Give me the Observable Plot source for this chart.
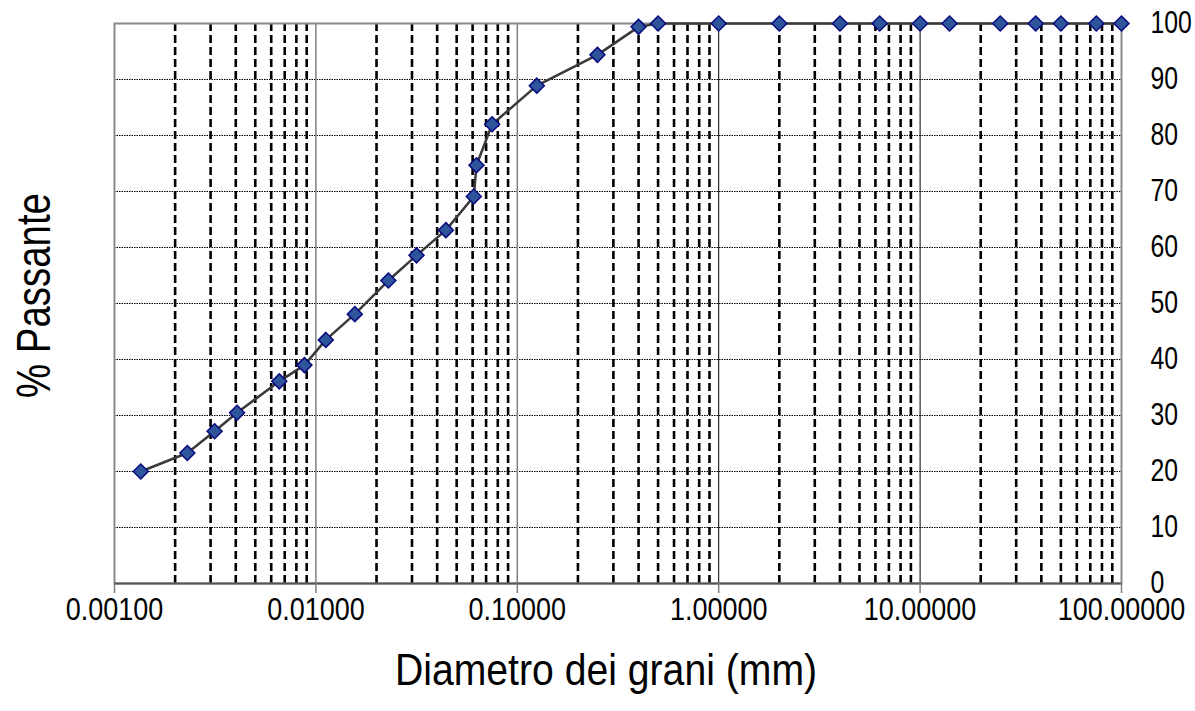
<!DOCTYPE html>
<html>
<head>
<meta charset="utf-8">
<script src="https://cdn.jsdelivr.net/npm/d3@7"></script>
<script src="https://cdn.jsdelivr.net/npm/@observablehq/plot@0.6"></script>
<style>
  html, body { margin: 0; padding: 0; background: #fff; }
  #chart svg { display: block; }
</style>
</head>
<body>
<div id="chart"></div>
<script>
// Grain size distribution (diameter in mm, % passing)
const diameters = [0.00135, 0.0023, 0.00314, 0.00406, 0.00658, 0.00877, 0.0112, 0.0156, 0.0229, 0.0316,
  0.0442, 0.0608, 0.0627, 0.075, 0.125, 0.25, 0.4, 0.5, 1, 2, 4, 6.3, 10, 14, 25, 37.5, 50, 75, 100];
const passing = [20.0, 23.3, 27.2, 30.5, 36.1, 39.0, 43.5, 48.1, 54.1, 58.6,
  63.1, 69.1, 74.7, 82.0, 88.9, 94.4, 99.4, 100, 100, 100, 100, 100, 100, 100, 100, 100, 100, 100, 100];

const xTicks = [0.001, 0.01, 0.1, 1, 10, 100];
const yTicks = [0, 10, 20, 30, 40, 50, 60, 70, 80, 90, 100];
const minorMultipliers = [2, 3, 4, 5, 6, 7, 8, 9];
const xLabel = "Diametro dei grani (mm)";
const yLabel = "% Passante";

const data = diameters.map((d, i) => ({d, p: passing[i]}));
const minorGrid = xTicks.slice(0, -1).flatMap(dec => minorMultipliers.map(m => +(dec * m).toPrecision(3)));

const font = "'Liberation Sans', Arial, sans-serif";

const chart = Plot.plot({
  width: 1195,
  height: 711,
  marginLeft: 114,
  marginRight: 74,
  marginTop: 23,
  marginBottom: 128,
  style: {fontFamily: font, background: "#fff", color: "#000"},
  x: {type: "log", domain: [0.001, 100]},
  y: {domain: [0, 100]},
  marks: [
    Plot.ruleX(minorGrid, {stroke: "#000", strokeWidth: 2.6, strokeDasharray: "8,4"}),
    Plot.ruleY(yTicks.filter(v => v > 0 && v < 100), {stroke: "#000", strokeWidth: 1, strokeDasharray: "1.5,1"}),
    Plot.ruleX([0.01, 0.1], {stroke: "#808080", strokeWidth: 1.5}),
    Plot.ruleX([1, 10], {stroke: "#000", strokeWidth: 1}),
    Plot.frame({stroke: "#8a8a8a", strokeWidth: 2}),
    Plot.ruleY([0], {stroke: "#555", strokeWidth: 2}),
    Plot.axisX(xTicks, {tickSize: 10, tickPadding: 4, tickFormat: d3.format(".5f"), fontSize: 31, stroke: "#808080", strokeWidth: 1.5, label: null}),
    Plot.axisY(yTicks, {anchor: "right", tickSize: 0, tickPadding: 29, fontSize: 31, label: null}),
    Plot.line(data, {x: "d", y: "p", stroke: "#3a3a3a", strokeWidth: 2.5}),
    Plot.dot(data, {x: "d", y: "p", symbol: "diamond2", r: 6.75, fill: "#2E5599", stroke: "#0A0A80", strokeWidth: 1.5}),
    Plot.text([xLabel], {frameAnchor: "bottom", dx: -12, dy: 101, fontSize: 44, fill: "#000"}),
    Plot.text([yLabel], {frameAnchor: "left", textAnchor: "middle", rotate: -90, dx: -80, dy: -8, fontSize: 48, fill: "#000"})
  ]
});
document.getElementById("chart").appendChild(chart);

// emulate the narrow typeface of the original
function squeeze(t, f) {
  const L = t.getComputedTextLength();
  t.setAttribute("textLength", L * f);
  t.setAttribute("lengthAdjust", "spacingAndGlyphs");
}
chart.querySelectorAll('g[aria-label="x-axis tick label"] text').forEach(t => squeeze(t, 0.87));
chart.querySelectorAll('g[aria-label="y-axis tick label"] text').forEach(t => squeeze(t, 0.80));
chart.querySelectorAll("text").forEach(t => {
  if (t.textContent === xLabel) squeeze(t, 0.89);
  if (t.textContent === yLabel) squeeze(t, 0.80);
});
</script>
</body>
</html>
